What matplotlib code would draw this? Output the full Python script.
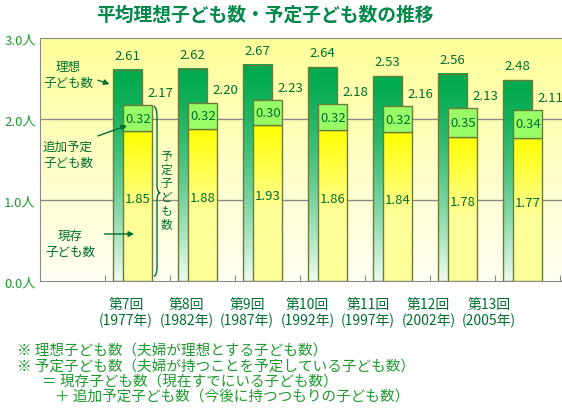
import numpy as np
import matplotlib
matplotlib.use('Agg')
import matplotlib.pyplot as plt
from matplotlib.path import Path
from matplotlib.patches import PathPatch

plt.rcParams['font.family'] = ['Noto Sans CJK JP', 'DejaVu Sans']

rounds = ['第7回', '第8回', '第9回', '第10回', '第11回', '第12回', '第13回']
years = ['(1977年)', '(1982年)', '(1987年)', '(1992年)', '(1997年)', '(2002年)', '(2005年)']
ideal = [2.61, 2.62, 2.67, 2.64, 2.53, 2.56, 2.48]
existing = [1.85, 1.88, 1.93, 1.86, 1.84, 1.78, 1.77]
additional = [0.32, 0.32, 0.30, 0.32, 0.32, 0.35, 0.34]
planned = [2.17, 2.20, 2.23, 2.18, 2.16, 2.13, 2.11]
yticks = [0.0, 1.0, 2.0, 3.0]
notes = ['※ 理想子ども数（夫婦が理想とする子ども数）',
         '※ 予定子ども数（夫婦が持つことを予定している子ども数）',
         '＝ 現存子ども数（現在すでにいる子ども数）',
         '＋ 追加予定子ども数（今後に持つつもりの子ども数）']

W, H = 562, 414
dark = '#006e2e'
txt_green = '#1f9a2f'
edge = '#6b7b3a'


def px(x, y):
    return x / W, 1 - y / H


def gradient(c_top, c_bot, shape=1.0, n=200, stop=1.0):
    # rows go bottom -> top (origin='lower')
    t = np.clip(np.linspace(1, 0, n) / stop, 0, 1) ** shape  # 0 at top, 1 at bottom
    c_top = np.array(matplotlib.colors.to_rgb(c_top))
    c_bot = np.array(matplotlib.colors.to_rgb(c_bot))
    g = c_top[None, :] * (1 - t[:, None]) + c_bot[None, :] * t[:, None]
    return g[:, None, :]


fig = plt.figure(figsize=(W / 100, H / 100), dpi=100)
ax = fig.add_axes([40 / W, (H - 282) / H, (W - 40) / W, 243 / H])

x = np.arange(1, len(rounds) + 1)
w = 0.45
xg = x + 0.345
xy = x + 0.505

# background
ax.imshow(gradient('#ffff99', '#fffff2'), extent=[0, 8.03, 0, 3.0],
          aspect='auto', origin='lower', zorder=0, interpolation='bilinear')
for v in [1.0, 2.0]:
    ax.axhline(v, color='#8a8a8a', lw=1, zorder=1)

for i in range(len(rounds)):
    # ideal bar (green gradient)
    ax.imshow(gradient('#00aa4e', '#eefbee', 1.4), extent=[xg[i] - w / 2, xg[i] + w / 2, 0, ideal[i]],
              aspect='auto', origin='lower', zorder=2, interpolation='bilinear')
    ax.bar(xg[i], ideal[i], w, facecolor='none', edgecolor=edge, lw=1, zorder=3)
    # existing bar (yellow gradient)
    ax.imshow(gradient('#ffff00', '#ffff99', stop=0.55), extent=[xy[i] - w / 2, xy[i] + w / 2, 0, existing[i]],
              aspect='auto', origin='lower', zorder=4, interpolation='bilinear')
    ax.bar(xy[i], existing[i], w, facecolor='none', edgecolor=edge, lw=1, zorder=5)
    ax.bar(xy[i], additional[i], w, bottom=existing[i], facecolor='#99ff66',
           edgecolor=edge, lw=1, zorder=5)

    ax.text(xg[i], ideal[i] + 0.18, f'{ideal[i]:.2f}', ha='center', va='center',
            fontsize=9.5, color=dark, zorder=6)
    ax.text(xg[i] + 0.5, planned[i] + 0.16, f'{planned[i]:.2f}', ha='center', va='center',
            fontsize=9.5, color=dark, zorder=6)
    ax.text(xy[i], existing[i] + additional[i] / 2, f'{additional[i]:.2f}', ha='center',
            va='center', fontsize=9.5, color=dark, zorder=6)
    ax.text(xy[i], existing[i] * 0.55, f'{existing[i]:.2f}', ha='center', va='center',
            fontsize=9.5, color=dark, zorder=6)

ax.set_xlim(0, 8.03)
ax.set_ylim(0, 3.0)
ax.set_xticks(np.arange(1, 9))
ax.set_xticklabels([])
ax.tick_params(axis='x', direction='in', length=4, color='#8a8a8a')
ax.set_yticks(yticks)
ax.set_yticklabels([f'{v:.1f}人' for v in yticks], fontsize=9.5, color=txt_green)
ax.tick_params(axis='y', length=0, pad=3)
for s in ['left', 'top', 'bottom']:
    ax.spines[s].set_color('#8a8a8a')
ax.spines['right'].set_visible(False)

# annotations
arrow = dict(arrowstyle='-|>', color=dark, lw=1, mutation_scale=8)
ax.annotate('', xy=(1.11, 2.42), xytext=(0.85, 2.49), arrowprops=arrow, zorder=7)
ax.text(0.43, 2.55, '理想\n子ども数', ha='center', va='center', fontsize=9,
        color=dark, linespacing=1.3, zorder=7)
ax.annotate('', xy=(1.38, 1.93), xytext=(0.85, 1.78), arrowprops=arrow, zorder=7)
ax.text(0.43, 1.56, '追加予定\n子ども数', ha='center', va='center', fontsize=9,
        color=dark, linespacing=1.3, zorder=7)
ax.annotate('', xy=(1.49, 0.58), xytext=(0.95, 0.58), arrowprops=arrow, zorder=7)
ax.text(0.46, 0.46, '現存\n子ども数', ha='center', va='center', fontsize=9,
        color=dark, linespacing=1.3, zorder=7)

# brace
verts = [(1.75, 2.16), (1.80, 2.14), (1.80, 2.02),
         (1.80, 1.20),
         (1.80, 1.09), (1.85, 1.09),
         (1.80, 1.09), (1.80, 0.98),
         (1.80, 0.18),
         (1.80, 0.06), (1.75, 0.06)]
codes = [Path.MOVETO, Path.CURVE3, Path.CURVE3, Path.LINETO,
         Path.CURVE3, Path.CURVE3, Path.CURVE3, Path.CURVE3,
         Path.LINETO, Path.CURVE3, Path.CURVE3]
ax.add_patch(PathPatch(Path(verts, codes), facecolor='none', edgecolor=dark, lw=1, zorder=7))
ax.text(1.95, 1.13, '\n'.join('予定子ども数'), ha='center', va='center', fontsize=8.5,
        color=dark, linespacing=1.05, zorder=7)

# x labels
for i, (r, yr) in enumerate(zip(rounds, years)):
    cx = 126 + 60.5 * i
    fig.text(*px(cx, 305), r, ha='center', va='center', fontsize=10, color=dark)
    fig.text(*px(cx, 321), yr, ha='center', va='center', fontsize=10, color=dark)

fig.text(*px(265, 15), '平均理想子ども数・予定子ども数の推移', ha='center', va='center',
         fontsize=13.5, fontweight='bold', color='#00874a')

note_x = [17, 17, 42, 55]
note_y = [351, 367, 382, 397]
for nx, ny, s in zip(note_x, note_y, notes):
    fig.text(*px(nx, ny), s, ha='left', va='center', fontsize=10.5, color=txt_green)

fig.savefig('out.png', dpi=100)
